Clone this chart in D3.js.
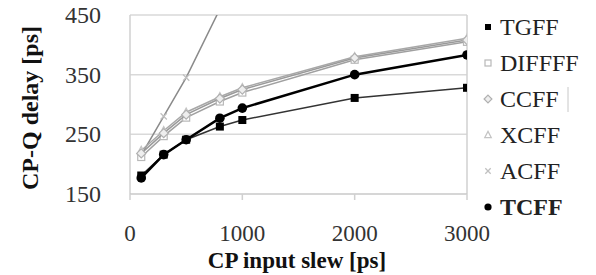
<!DOCTYPE html>
<html>
<head>
<meta charset="utf-8">
<script src="https://cdn.jsdelivr.net/npm/d3@7"></script>
<style>
  body { margin: 0; background: #fff; }
</style>
</head>
<body>
<div id="chart"></div>
<script>
const slew = [100, 300, 500, 800, 1000, 2000, 3000]
const tgff = [181, 216, 241, 263, 274, 311, 328]
const difff = [212, 247, 278, 305, 320, 375, 405]
const ccff = [218, 252, 283, 310, 325, 378, 408]
const xcff = [223, 256, 287, 313, 328, 380, 411]
const acffSlew = [100, 300, 500, 800]
const acff = [215, 280, 345, 460]
const tcff = [177, 216, 241, 277, 294, 350, 383]
const xTicks = [0, 1000, 2000, 3000]
const yTicks = [150, 250, 350, 450]
const legendNames = ["TGFF", "DIFFFF", "CCFF", "XCFF", "ACFF", "TCFF"]

const canvas = { width: 596, height: 275, left: 130, right: 467, top: 15, bottom: 194 }
const serif = "'Liberation Serif', 'Times New Roman', Times, serif"

const svg = d3.select("#chart").append("svg")
  .attr("width", canvas.width).attr("height", canvas.height)
  .attr("font-family", serif)

const x = d3.scaleLinear().domain([0, 3000]).range([canvas.left, canvas.right])
const y = d3.scaleLinear().domain([150, 450]).range([canvas.bottom, canvas.top])

// grid + frame
svg.selectAll(".grid").data(yTicks.slice(1)).enter().append("line")
  .attr("x1", canvas.left).attr("x2", canvas.right)
  .attr("y1", d => y(d)).attr("y2", d => y(d))
  .attr("stroke", "#d9d9d9").attr("stroke-width", 1.5)
svg.append("line").attr("x1", canvas.left).attr("x2", canvas.left)
  .attr("y1", canvas.top).attr("y2", canvas.bottom).attr("stroke", "#d0d0d0").attr("stroke-width", 1.5)
svg.append("line").attr("x1", canvas.right).attr("x2", canvas.right)
  .attr("y1", canvas.top).attr("y2", canvas.bottom).attr("stroke", "#d0d0d0").attr("stroke-width", 1.5)
svg.append("line").attr("x1", canvas.left).attr("x2", canvas.right)
  .attr("y1", canvas.bottom).attr("y2", canvas.bottom).attr("stroke", "#c8c8c8").attr("stroke-width", 1.5)
svg.selectAll(".xtick").data(xTicks).enter().append("line")
  .attr("x1", d => x(d)).attr("x2", d => x(d))
  .attr("y1", canvas.bottom).attr("y2", canvas.bottom + 6)
  .attr("stroke", "#d0d0d0").attr("stroke-width", 1.5)

// tick labels
svg.selectAll(".xlab").data(xTicks).enter().append("text")
  .attr("x", d => x(d)).attr("y", 241).attr("text-anchor", "middle")
  .attr("font-family", serif).attr("font-size", "23px").attr("fill", "#333").text(d => d)
svg.selectAll(".ylab").data(yTicks).enter().append("text")
  .attr("x", 101).attr("y", d => y(d) + 8).attr("text-anchor", "end")
  .attr("font-family", serif).attr("font-size", "24px").attr("fill", "#333").text(d => d)

// axis titles
svg.append("text").attr("x", 297).attr("y", 268).attr("text-anchor", "middle")
  .attr("font-family", serif).attr("font-size", "23px").attr("font-weight", "bold").attr("fill", "#111")
  .text("CP input slew [ps]")
svg.append("text").attr("transform", "translate(38,108) rotate(-90)")
  .attr("text-anchor", "middle").attr("font-family", serif).attr("font-size", "24px").attr("font-weight", "bold")
  .attr("fill", "#111").text("CP-Q delay [ps]")

svg.append("clipPath").attr("id", "plot-clip").append("rect")
  .attr("x", canvas.left).attr("y", canvas.top)
  .attr("width", canvas.right - canvas.left).attr("height", canvas.bottom - canvas.top)

const plot = svg.append("g").attr("clip-path", "url(#plot-clip)")
const line = d3.line().x(d => x(d[0])).y(d => y(d[1]))

const series = [
  { name: "ACFF", xs: acffSlew, ys: acff, color: "#8a8a8a", width: 1.5, marker: "cross", mcolor: "#c0c0c0" },
  { name: "XCFF", xs: slew, ys: xcff, color: "#a8a8a8", width: 1.5, marker: "triangle", mcolor: "#c4c4c4" },
  { name: "DIFFFF", xs: slew, ys: difff, color: "#a0a0a0", width: 1.5, marker: "square", mcolor: "#b8b8b8" },
  { name: "CCFF", xs: slew, ys: ccff, color: "#9a9a9a", width: 1.5, marker: "diamond", mcolor: "#b0b0b0" },
  { name: "TGFF", xs: slew, ys: tgff, color: "#333", width: 1.5, marker: "fsquare", mcolor: "#000" },
  { name: "TCFF", xs: slew, ys: tcff, color: "#000", width: 2.5, marker: "circle", mcolor: "#000" }
]

function drawMarker(g, type, cx, cy, color, s) {
  if (type === "circle") {
    g.append("circle").attr("cx", cx).attr("cy", cy).attr("r", s * 0.6).attr("fill", color)
  } else if (type === "fsquare") {
    g.append("rect").attr("x", cx - s / 2).attr("y", cy - s / 2).attr("width", s).attr("height", s).attr("fill", color)
  } else if (type === "square") {
    g.append("rect").attr("x", cx - s / 2).attr("y", cy - s / 2).attr("width", s).attr("height", s)
      .attr("fill", "#fff").attr("stroke", color).attr("stroke-width", 1.2)
  } else if (type === "diamond") {
    g.append("path").attr("d", `M${cx},${cy - s * 0.65}L${cx + s * 0.65},${cy}L${cx},${cy + s * 0.65}L${cx - s * 0.65},${cy}Z`)
      .attr("fill", "#eee").attr("stroke", color).attr("stroke-width", 1.2)
  } else if (type === "triangle") {
    g.append("path").attr("d", `M${cx},${cy - s * 0.6}L${cx + s * 0.55},${cy + s * 0.45}L${cx - s * 0.55},${cy + s * 0.45}Z`)
      .attr("fill", "#fff").attr("stroke", color).attr("stroke-width", 1.2)
  } else if (type === "cross") {
    const h = s * 0.45
    g.append("path").attr("d", `M${cx - h},${cy - h}L${cx + h},${cy + h}M${cx - h},${cy + h}L${cx + h},${cy - h}`)
      .attr("stroke", color).attr("stroke-width", 1.3)
  }
}

series.forEach(s => {
  const pts = s.xs.map((v, i) => [v, s.ys[i]])
  plot.append("path").datum(pts).attr("d", line).attr("fill", "none")
    .attr("stroke", s.color).attr("stroke-width", s.width)
  pts.forEach(p => drawMarker(plot, s.marker, x(p[0]), y(p[1]), s.mcolor, s.marker === "circle" || s.marker === "fsquare" ? 8 : 7))
})

// legend
const legend = svg.append("g")
legendNames.forEach((name, i) => {
  const s = series.find(d => d.name === name)
  const cy = 27 + i * 36
  drawMarker(legend, s.marker, 488, cy, s.mcolor, 6)
  legend.append("text").attr("x", 500).attr("y", cy + 8).attr("font-family", serif).attr("font-size", "24px")
    .attr("font-weight", name === "TCFF" ? "bold" : "normal").attr("fill", "#222").text(name)
})
legend.append("line").attr("x1", 568).attr("x2", 568).attr("y1", 87).attr("y2", 112)
  .attr("stroke", "#c8c8c8").attr("stroke-width", 1)
</script>
</body>
</html>
